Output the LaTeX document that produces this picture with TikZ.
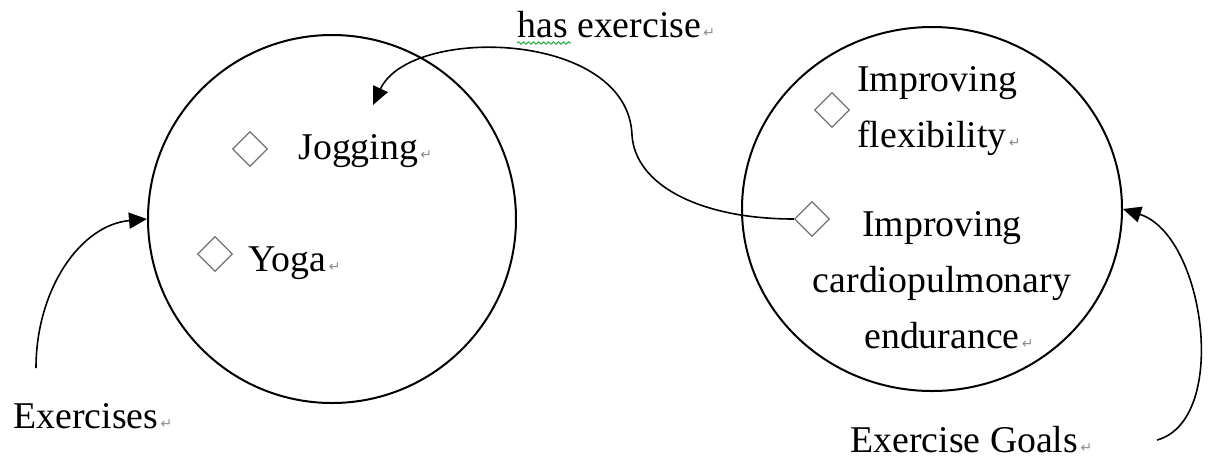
\documentclass[tikz,border=0pt]{standalone}
\usepackage{fontspec}
\setmainfont{Liberation Serif}
\newfontfamily\markfont{DejaVu Sans}
\usetikzlibrary{shapes.geometric,arrows.meta,decorations.pathmorphing}
\definecolor{markgray}{gray}{0.55}
\definecolor{diagray}{gray}{0.45}
\definecolor{spellgreen}{RGB}{40,170,70}
\newcommand{\retmark}{\rlap{\markfont\fontsize{7}{7}\selectfont\color{markgray}\,↵}}

\begin{document}
\begin{tikzpicture}[x=0.5pt, y=-0.5pt, every node/.style={inner sep=0pt, font=\fontsize{18.9}{28}\selectfont},
    bubble/.style={draw, line width=1pt},
    item/.style={diamond, draw=diagray, line width=0.6pt, minimum width=17.5pt, minimum height=17.5pt},
    link/.style={line width=0.8pt, -{Triangle[length=9pt,width=8pt]}}]
\useasboundingbox (0,0) rectangle (1211,457);
    % the two sets
    \node[bubble, circle, minimum size=184pt] (exercises) at (332,219) {};
    \node[bubble, ellipse, minimum width=190pt, minimum height=182pt] (goals) at (932,209) {};
    % members (base of a multi-line node is its last line)
    \node[item] (jogdia) at (250,149) {};
    \node[item] (yogadia) at (215,254) {};
    \node[item] (flexdia) at (832,110) {};
    \node[item] (cardiodia) at (812,219) {};
    \node[anchor=base west] (jogging) at (298,159) {Jogging\retmark};
    \node[anchor=base west] (yoga) at (248,271) {Yoga\retmark};
    \node[anchor=base west, align=left] (flex) at (857,147) {Improving\\flexibility\retmark};
    \node[anchor=base, align=center] (cardio) at (942,348) {Improving\\cardiopulmonary\\endurance\retmark};
    % labels
    \node[anchor=base west] (hasex) at (517,37) {has exercise\retmark};
    \node[anchor=base west] (exlabel) at (13,428) {Exercises\retmark};
    \node[anchor=base west] (goallabel) at (850,452) {Exercise Goals\retmark};
    \draw[spellgreen, line width=0.5pt, decorate, decoration={snake, amplitude=0.6pt, segment length=2.5pt}]
        ([yshift=-3pt]hasex.base west) -- ++(54,0);
    \coordinate (exstart) at (36,368);
    \coordinate (goalstart) at (1157,440);
    \coordinate (jogtip) at (373,105);
    % arrows
    \draw[link] (exstart) .. controls (36,290) and (80,225) .. (exercises.west);
    \draw[link] (goalstart) .. controls (1230,420) and (1205,235) .. (goals.east);
    \draw[link] (cardiodia.west) .. controls (700,219) and (635,185) .. (632,135)
        .. controls (628,30) and (410,25) .. (jogtip);
\end{tikzpicture}
\end{document}
